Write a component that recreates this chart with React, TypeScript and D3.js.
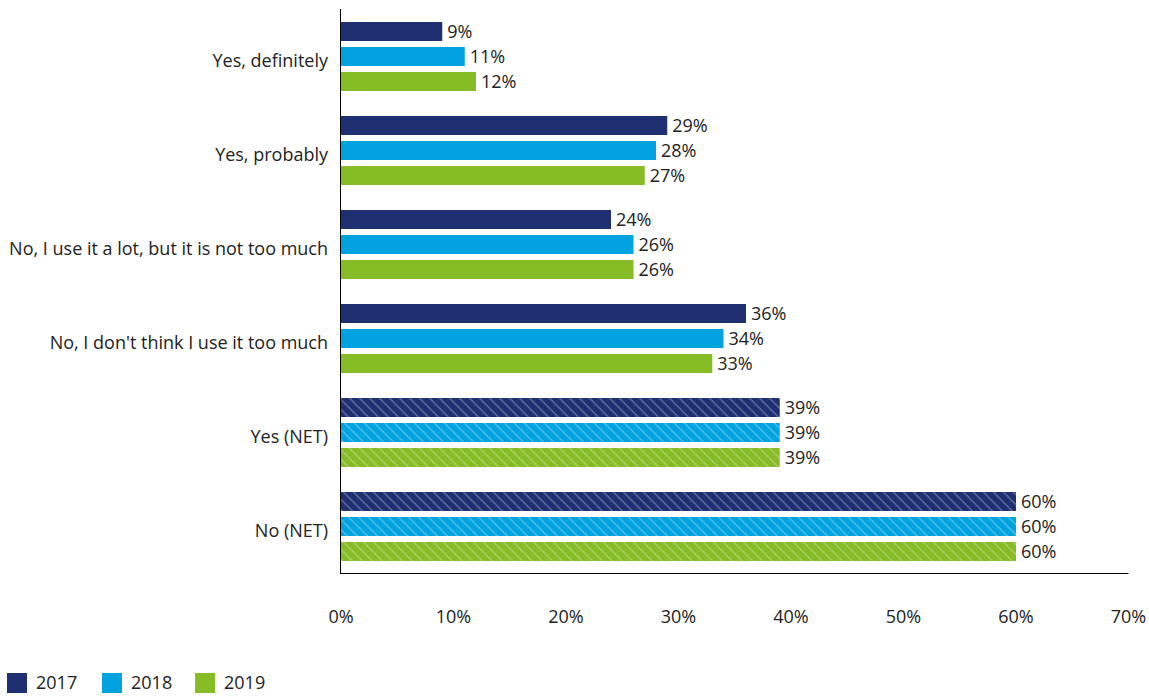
import React from "react";
import * as d3 from "d3";

const categories = [
  "Yes, definitely",
  "Yes, probably",
  "No, I use it a lot, but it is not too much",
  "No, I don't think I use it too much",
  "Yes (NET)",
  "No (NET)",
];
const hatched = ["Yes (NET)", "No (NET)"];
const years = ["2017", "2018", "2019"];
const values2017 = [9, 29, 24, 36, 39, 60];
const values2018 = [11, 28, 26, 34, 39, 60];
const values2019 = [12, 27, 26, 33, 39, 60];
const xTicks = [0, 10, 20, 30, 40, 50, 60, 70];
const colors = ["#1e2f72", "#00a3e0", "#86bc25"];

const W = 1149;
const H = 696;
const FONT = "'Open Sans', 'Noto Sans', sans-serif";

export default function App() {
  const series = [values2017, values2018, values2019];
  const x = d3.scaleLinear().domain([0, 70]).range([341, 1128.5]);
  const y = d3.scaleBand<string>().domain(categories).range([9, 573]).padding(0);
  const inner = d3
    .scaleBand<string>()
    .domain(years)
    .range([13, 13 + 69])
    .paddingInner(6 / 25)
    .paddingOuter(0);

  return (
    <svg
      width={W}
      height={H}
      style={{ position: "absolute", left: 0, top: 0, display: "block" }}
      fontFamily={FONT}
    >
      <defs>
        {colors.map((c, i) => (
          <pattern
            key={i}
            id={`hatch${i}`}
            patternUnits="userSpaceOnUse"
            width={7.07}
            height={7.07}
            patternTransform="rotate(-45)"
          >
            <rect width={7.07} height={7.07} fill={c} />
            <line x1={1} y1={0} x2={1} y2={7.07} stroke="#ffffff" strokeOpacity={0.3} strokeWidth={1.4} />
          </pattern>
        ))}
      </defs>
      <rect width={W} height={H} fill="#ffffff" />
      {categories.map((cat, ci) => {
        const y0 = y(cat)!;
        const isHatch = hatched.includes(cat);
        return (
          <g key={cat}>
            <text
              x={328}
              y={y0 + y.bandwidth() / 2 + 10.5}
              textAnchor="end"
              fontSize={18}
              fill="#222"
            >
              {cat}
            </text>
            {years.map((yr, si) => {
              const v = series[si][ci];
              const by = y0 + inner(yr)!;
              const bh = inner.bandwidth();
              return (
                <g key={yr}>
                  <rect
                    x={x(0)}
                    y={by}
                    width={x(v) - x(0)}
                    height={bh}
                    fill={isHatch ? `url(#hatch${si})` : colors[si]}
                  />
                  <text
                    x={x(v) + 5}
                    y={by + bh / 2 + 6.5}
                    fontSize={18}
                    fill="#222"
                  >
                    {`${v}%`}
                  </text>
                </g>
              );
            })}
          </g>
        );
      })}
      <line x1={340.5} y1={9} x2={340.5} y2={573.5} stroke="#000" strokeWidth={1} />
      <line x1={340} y1={573.5} x2={1128.5} y2={573.5} stroke="#000" strokeWidth={1} />
      {xTicks.map((t) => (
        <text key={t} x={x(t)} y={623} textAnchor="middle" fontSize={18} fill="#222">
          {`${t}%`}
        </text>
      ))}
      {years.map((yr, i) => {
        const lx = [7, 102, 195][i];
        return (
          <g key={yr}>
            <rect x={lx} y={673} width={20} height={20} fill={colors[i]} />
            <text x={lx + 29} y={689} fontSize={18} fill="#222">
              {yr}
            </text>
          </g>
        );
      })}
    </svg>
  );
}
